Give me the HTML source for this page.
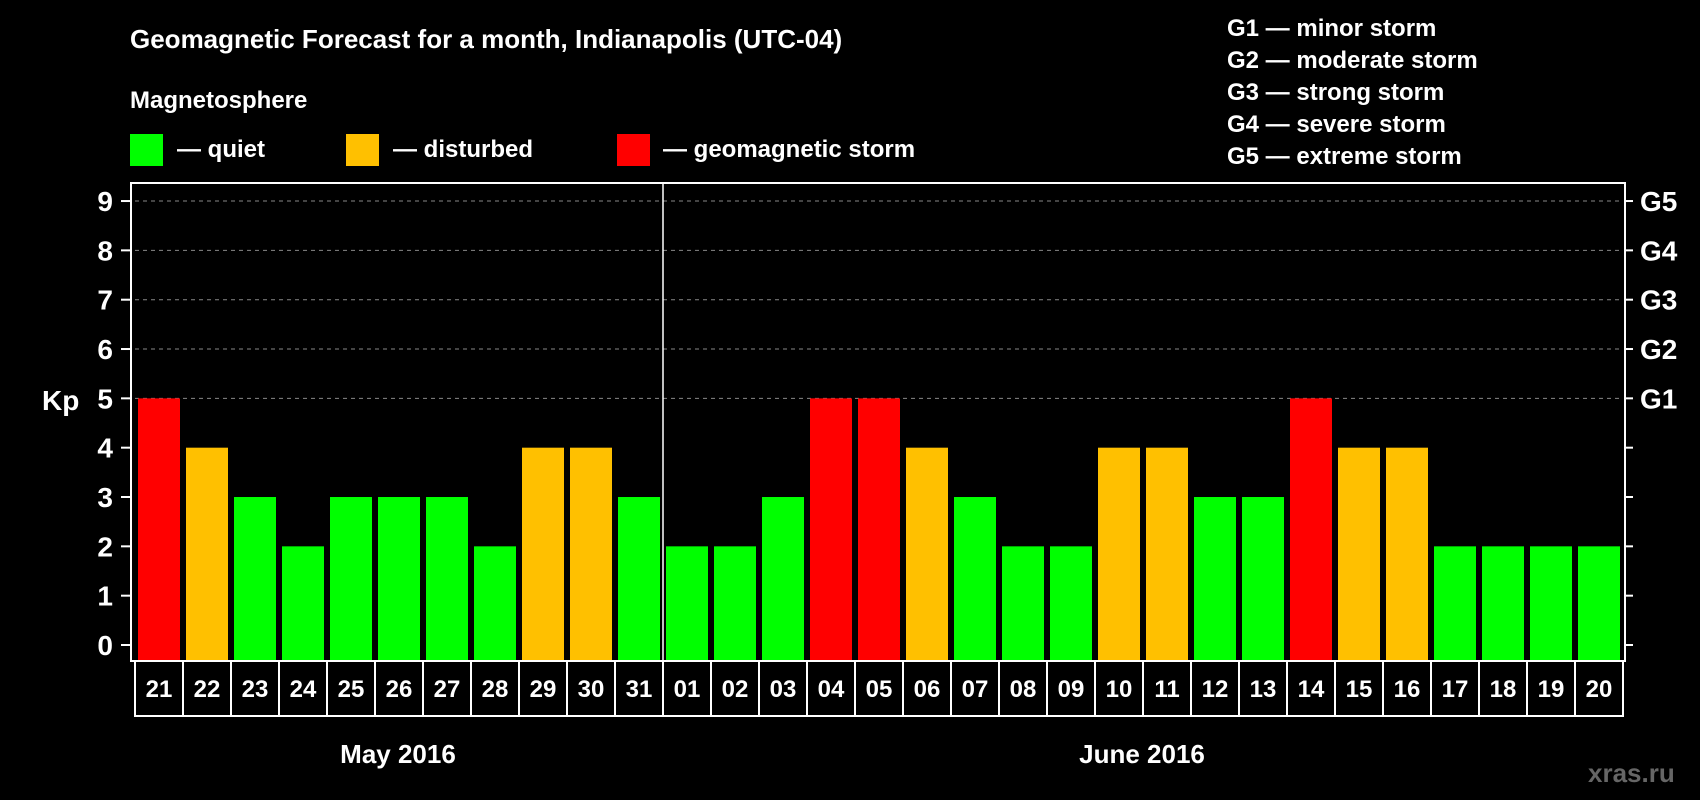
<!DOCTYPE html>
<html><head><meta charset="utf-8"><style>
html,body{margin:0;padding:0;background:#000;width:1700px;height:800px;overflow:hidden}
svg{display:block;font-family:"Liberation Sans",Arial,sans-serif;font-weight:bold}
</style></head><body>
<svg id="c" width="1700" height="800" viewBox="0 0 1700 800">
<text x="130" y="48" fill="#fff" font-size="26">Geomagnetic Forecast for a month, Indianapolis (UTC-04)</text>
<text x="130" y="108" fill="#fff" font-size="24">Magnetosphere</text>
<g><rect x="130" y="134" width="33" height="32" fill="#00ff00"/><text x="177" y="157" fill="#fff" font-size="24">— quiet</text></g>
<g><rect x="346" y="134" width="33" height="32" fill="#ffc000"/><text x="393" y="157" fill="#fff" font-size="24">— disturbed</text></g>
<g><rect x="617" y="134" width="33" height="32" fill="#ff0000"/><text x="663" y="157" fill="#fff" font-size="24">— geomagnetic storm</text></g>
<g fill="#fff" font-size="24">
<text x="1227" y="36">G1 — minor storm</text>
<text x="1227" y="68">G2 — moderate storm</text>
<text x="1227" y="100">G3 — strong storm</text>
<text x="1227" y="132">G4 — severe storm</text>
<text x="1227" y="164">G5 — extreme storm</text>
</g>
<text x="42" y="410" fill="#fff" font-size="28">Kp</text>
<text x="1588" y="782" fill="#666" font-size="26">xras.ru</text>
<text x="398" y="763" fill="#fff" font-size="26" text-anchor="middle">May 2016</text>
<text x="1142" y="763" fill="#fff" font-size="26" text-anchor="middle">June 2016</text>
<g id="plot"></g>
</svg>
<script>
const days=["21","22","23","24","25","26","27","28","29","30","31","01","02","03","04","05","06","07","08","09","10","11","12","13","14","15","16","17","18","19","20"];
const kp=[5,4,3,2,3,3,3,2,4,4,3,2,2,3,5,5,4,3,2,2,4,4,3,3,5,4,4,2,2,2,2];
const yTicks=[0,1,2,3,4,5,6,7,8,9];
const gLabels=["G1","G2","G3","G4","G5"];
const gLevels=[5,6,7,8,9];
const monthSplit=11;
const NS="http://www.w3.org/2000/svg";
const L=135,R=1623,T=183,B=661,cellW=(R-L)/days.length;
const y=v=>645-v*49.33;
const x=i=>L+i*cellW;
const g=document.getElementById('plot');
function mk(t,a){const e=document.createElementNS(NS,t);for(const k in a)e.setAttribute(k,a[k]);g.appendChild(e);return e;}
gLevels.forEach(v=>{const e=mk('line',{x1:L,x2:R,y1:y(v),y2:y(v),stroke:'#888','stroke-width':1,'stroke-dasharray':'4,4'});

});
kp.forEach((v,i)=>{const c=v>=5?'#ff0000':v>=4?'#ffc000':'#00ff00';
const r=mk('rect',{x:x(i)+3,y:y(v),width:cellW-6,height:B-y(v),fill:c});

});
const fr=mk('rect',{x:L-4,y:T,width:R-L+6,height:B-T,fill:'none',stroke:'#fff','stroke-width':2});


const dv=mk('line',{x1:x(monthSplit),x2:x(monthSplit),y1:T,y2:B,stroke:'#fff','stroke-width':1.5});


yTicks.forEach(v=>{mk('line',{x1:L-14,x2:L-4,y1:y(v),y2:y(v),stroke:'#fff','stroke-width':2});
mk('line',{x1:R+2,x2:R+10,y1:y(v),y2:y(v),stroke:'#fff','stroke-width':2});
const t=mk('text',{x:113,y:y(v)+10,fill:'#fff','font-size':28,'text-anchor':'end'});t.textContent=v;

});
gLevels.forEach((v,i)=>{const t=mk('text',{x:1640,y:y(v)+10,fill:'#fff','font-size':28});t.textContent=gLabels[i];

});
const box=mk('rect',{x:L,y:B,width:R-L,height:55,fill:'none',stroke:'#fff','stroke-width':2});


days.forEach((d,i)=>{if(i>0)mk('line',{x1:x(i),x2:x(i),y1:B,y2:B+55,stroke:'#fff','stroke-width':2});
const t=mk('text',{x:x(i)+cellW/2,y:B+36,fill:'#fff','font-size':24,'text-anchor':'middle'});t.textContent=d;

});
</script>
</body></html>
